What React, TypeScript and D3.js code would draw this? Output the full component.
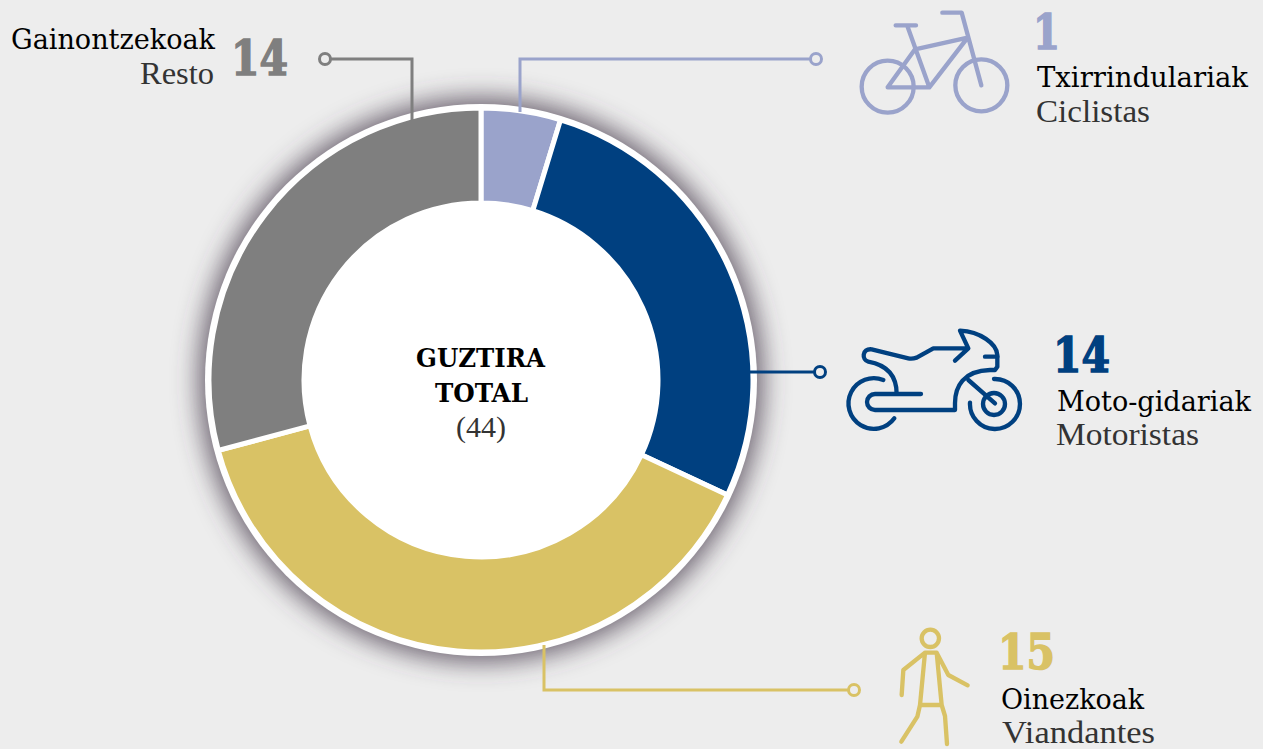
import React, { useEffect, useRef } from 'react';
import * as d3 from 'd3';

// printed figures
const counts = ['1', '14', '15', '14'];
const names = ['Txirrindulariak', 'Moto-gidariak', 'Oinezkoak', 'Gainontzekoak'];
const namesEs = ['Ciclistas', 'Motoristas', 'Viandantes', 'Resto'];
const colors = ['#9aa3cb', '#004080', '#d9c265', '#7f7f7f'];
// the slices in the picture are not proportional to the counts, so these are the arc sizes read off it (degrees)
const sliceDegrees = [17, 98, 140, 105];

const centerLines = ['GUZTIRA', 'TOTAL'];
const centerTotal = '(44)';

const WIDTH = 1263;
const HEIGHT = 749;
const CX = 481;
const CY = 380;
const SERIF = '"DejaVu Serif Condensed", "DejaVu Serif", serif';
const HEAVY = '"DejaVu Serif", serif';
const LIGHT = '"Liberation Serif", serif';

// [x, baseline, width] for count, name and spanish name of every category
const labelPos = [
  [[1033, 48.5, 27], [1037, 87, 211], [1036, 122, 114]],
  [[1053, 372, 57], [1057, 410.5, 194], [1056, 445, 143]],
  [[998, 669, 57], [1001, 709, 143], [1002, 743, 153]],
  [[231, 75, 57], [11, 49, 204], [140, 84, 74]],
];

const connectors: [number, number][][] = [
  [[520, 112], [520, 59], [816, 59]],
  [[750, 372], [820, 372]],
  [[544, 645], [544, 690], [854, 690]],
  [[412, 120], [412, 59], [325, 59]],
];

const App = () => {
  const svgRef = useRef<SVGSVGElement>(null);

  useEffect(() => {
    const svg = d3.select(svgRef.current);
    svg.selectAll('*').remove();
    svg.attr('width', WIDTH).attr('height', HEIGHT)
      .style('position', 'fixed').style('left', 0).style('top', 0)
      .style('background', '#ededed');

    const blur = svg.append('defs').append('filter').attr('id', 'shadow')
      .attr('x', '-20%').attr('y', '-20%').attr('width', '140%').attr('height', '140%');
    blur.append('feGaussianBlur').attr('stdDeviation', 13);

    svg.append('circle').attr('cx', CX).attr('cy', CY).attr('r', 282)
      .attr('fill', '#4a4050').attr('fill-opacity', 0.8).attr('filter', 'url(#shadow)');
    svg.append('circle').attr('cx', CX).attr('cy', CY).attr('r', 276).attr('fill', '#fff');

    const line = d3.line();
    const pie = d3.pie<number>().sort(null).value(d => d);
    const arc = d3.arc<d3.PieArcDatum<number>>().innerRadius(177).outerRadius(272);

    svg.append('g').attr('transform', `translate(${CX},${CY})`)
      .selectAll('path')
      .data(pie(sliceDegrees))
      .enter()
      .append('path')
      .attr('d', arc)
      .attr('fill', (d, i) => colors[i])
      .attr('stroke', 'white')
      .style('stroke-width', '5px');

    connectors.forEach((pts, i) => {
      const end = pts[pts.length - 1];
      svg.append('path').attr('d', line(pts)).attr('fill', 'none')
        .attr('stroke', colors[i]).style('stroke-width', '3px');
      svg.append('circle').attr('cx', end[0]).attr('cy', end[1]).attr('r', 5.5)
        .attr('fill', '#ededed').attr('stroke', colors[i]).style('stroke-width', '3px');
    });

    const addText = (t: string, x: number, y: number, w: number, size: number, weight: string, fill: string, family = SERIF) => {
      return svg.append('text').attr('x', x).attr('y', y).text(t)
        .attr('textLength', w).attr('lengthAdjust', 'spacingAndGlyphs')
        .attr('fill', fill)
        .style('font-family', family).style('font-size', `${size}px`).style('font-weight', weight);
    };

    counts.forEach((c, i) => {
      const [p0, p1, p2] = labelPos[i];
      // no black weight installed, so the bold gets a thin outline
      addText(c, p0[0], p0[1], p0[2], 49, '700', colors[i], HEAVY)
        .attr('stroke', colors[i]).style('stroke-width', '1.6px');
      addText(names[i], p1[0], p1[1], p1[2], 28, '400', '#000');
      addText(namesEs[i], p2[0], p2[1], p2[2], 32, '400', '#333', LIGHT);
    });

    addText(centerLines[0], 416, 367, 129, 26, '700', '#000');
    addText(centerLines[1], 435, 402, 93, 26, '700', '#000');
    addText(centerTotal, 456, 437, 50, 30, '400', '#333', LIGHT);

    // icons, traced in 3x units
    const icon = (dx: number, dy: number, color: string) => svg.append('g')
      .attr('transform', `translate(${dx},${dy}) scale(${1 / 3})`)
      .attr('fill', 'none').attr('stroke', color)
      .attr('stroke-width', 13).attr('stroke-linecap', 'round').attr('stroke-linejoin', 'round');

    const bike = icon(840, 0, colors[0]);
    bike.append('circle').attr('cx', 143).attr('cy', 260).attr('r', 78);
    bike.append('circle').attr('cx', 424).attr('cy', 256).attr('r', 78);
    bike.append('path').attr('d', 'M167 76H228M202 78L268 262M225 148L383 113L268 262H143L225 148M424 256L365 38H307');

    const moto = icon(740, 320, colors[1]);
    moto.append('path').attr('d', 'M430 180A76 76 0 1 0 463 295');
    moto.append('path').attr('d', 'M543 222H405A24 24 0 0 0 405 270H645V250C645 200 670 152 750 150H765L772 140V105C770 70 720 35 660 32L685 85L645 122M685 85H580L530 113Q515 118 505 115L395 88C365 85 365 120 385 125C440 135 470 165 470 222');
    moto.append('path').attr('d', 'M735 110H772M685 180L765 250');
    moto.append('circle').attr('cx', 762).attr('cy', 252).attr('r', 33);
    moto.append('path').attr('d', 'M762 177A75 75 0 1 1 690 248');

    const walker = icon(830, 620, colors[2]);
    walker.append('circle').attr('cx', 301).attr('cy', 55).attr('r', 26);
    walker.append('path').attr('d', 'M215 225L220 150L285 98H320L355 165L413 196M285 98L270 255L262 290L214 365M320 98L335 255L345 288L351 372M270 255H335');
  }, []);

  return <svg ref={svgRef}></svg>;
};

export default App;
